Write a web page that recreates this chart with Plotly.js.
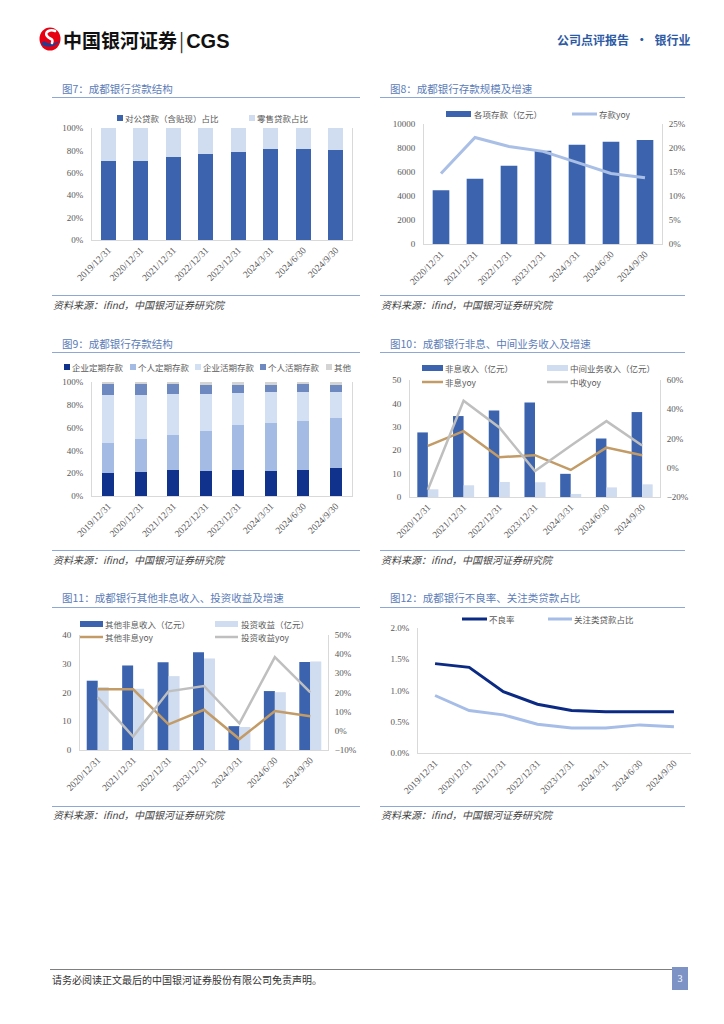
<!DOCTYPE html>
<html><head><meta charset="utf-8">
<script src="https://cdn.plot.ly/plotly-3.0.1.min.js"></script>
<style>
body{margin:0;width:724px;height:1024px;background:#fff;position:relative;overflow:hidden;font-family:"Noto Sans CJK SC","Noto Sans",sans-serif;}
.abs{position:absolute;}
.ptitle{position:absolute;font-size:10.5px;line-height:12px;color:#5B7CB8;white-space:nowrap;}
.hline{position:absolute;height:0;border-top:1.5px solid #8FA7D3;}
.src{position:absolute;font-size:10px;line-height:12px;color:#444;font-style:italic;white-space:nowrap;}
.chart{position:absolute;}
</style></head>
<body>
<!-- header -->
<svg class="abs" style="left:38px;top:26px" width="24" height="26" viewBox="0 0 24 26">
  <ellipse cx="12" cy="13" rx="10.5" ry="11.5" fill="#E60012"/>
  <path d="M3,18 C8,22 18,22 22,14 C19,18 11,19 6,15 Z" fill="#1D3F94"/>
  <path d="M17,5 C12,3 6,6 9,10 C12,14 16,12 14,17" stroke="#fff" stroke-width="2.6" fill="none" stroke-linecap="round"/>
</svg>
<div class="abs" style="left:63px;top:28px;font-size:19px;font-weight:bold;color:#111;line-height:24px;white-space:nowrap;">中国银河证券<span style="font-weight:normal;color:#333;margin:0 2px;">|</span><span style="font-family:'Liberation Sans',Arial,sans-serif;font-size:20px;">CGS</span></div>
<div class="abs" style="left:557px;top:32px;font-size:12px;font-weight:bold;color:#2D5AA4;white-space:nowrap;line-height:16px;">公司点评报告 <span style="margin:0 4px;">·</span> 银行业</div>

<!-- row 1 -->
<div class="ptitle" style="left:62px;top:83px;">图7：成都银行贷款结构</div>
<div class="ptitle" style="left:390px;top:83px;">图8：成都银行存款规模及增速</div>
<div class="hline" style="left:52px;top:97px;width:308px;"></div>
<div class="hline" style="left:380px;top:97px;width:305px;"></div>
<div class="hline" style="left:52px;top:295px;width:308px;"></div>
<div class="hline" style="left:380px;top:295px;width:305px;"></div>
<div class="src" style="left:53px;top:299px;">资料来源：ifind，中国银河证券研究院</div>
<div class="src" style="left:381px;top:299px;">资料来源：ifind，中国银河证券研究院</div>

<!-- row 2 -->
<div class="ptitle" style="left:62px;top:338px;">图9：成都银行存款结构</div>
<div class="ptitle" style="left:390px;top:338px;">图10：成都银行非息、中间业务收入及增速</div>
<div class="hline" style="left:52px;top:352px;width:308px;"></div>
<div class="hline" style="left:380px;top:352px;width:305px;"></div>
<div class="hline" style="left:52px;top:550px;width:308px;"></div>
<div class="hline" style="left:380px;top:550px;width:305px;"></div>
<div class="src" style="left:53px;top:554px;">资料来源：ifind，中国银河证券研究院</div>
<div class="src" style="left:381px;top:554px;">资料来源：ifind，中国银河证券研究院</div>

<!-- row 3 -->
<div class="ptitle" style="left:62px;top:592px;">图11：成都银行其他非息收入、投资收益及增速</div>
<div class="ptitle" style="left:390px;top:592px;">图12：成都银行不良率、关注类贷款占比</div>
<div class="hline" style="left:52px;top:607px;width:308px;"></div>
<div class="hline" style="left:380px;top:607px;width:305px;"></div>
<div class="hline" style="left:52px;top:806px;width:308px;"></div>
<div class="hline" style="left:380px;top:806px;width:305px;"></div>
<div class="src" style="left:53px;top:809px;">资料来源：ifind，中国银河证券研究院</div>
<div class="src" style="left:381px;top:809px;">资料来源：ifind，中国银河证券研究院</div>

<div id="c7" class="chart" style="left:50px;top:100px;"></div>
<div id="c8" class="chart" style="left:375px;top:100px;"></div>
<div id="c9" class="chart" style="left:50px;top:355px;"></div>
<div id="c10" class="chart" style="left:375px;top:355px;"></div>
<div id="c11" class="chart" style="left:50px;top:610px;"></div>
<div id="c12" class="chart" style="left:375px;top:610px;"></div>

<!-- footer -->
<div class="abs" style="left:50px;top:969px;width:622px;height:0;border-top:1px solid #7F7F7F;"></div>
<div class="abs" style="left:52px;top:974px;font-size:10px;color:#333;white-space:nowrap;line-height:12px;">请务必阅读正文最后的中国银河证券股份有限公司免责声明。</div>
<div class="abs" style="left:672px;top:967px;width:16px;height:23px;background:#7D93C6;color:#fff;font-size:10px;line-height:23px;text-align:center;font-family:'Liberation Serif',serif;">3</div>

<script>
// ---------- data ----------
const dates8 = ['2019/12/31','2020/12/31','2021/12/31','2022/12/31','2023/12/31','2024/3/31','2024/6/30','2024/9/30'];
const dates7 = ['2020/12/31','2021/12/31','2022/12/31','2023/12/31','2024/3/31','2024/6/30','2024/9/30'];

// Fig 7 loan structure (%)
const corpLoanShare = [70.9, 70.3, 73.9, 77.2, 78.9, 81.0, 81.0, 80.4];
const retailLoanShare = [29.1, 29.7, 26.1, 22.8, 21.1, 19.0, 19.0, 19.6];

// Fig 8 deposits (亿元) and yoy (%)
const deposits = [4472, 5444, 6528, 7778, 8278, 8528, 8667];
const depositYoy = [14.7, 22.2, 20.3, 19.3, 17.0, 14.7, 13.8];

// Fig 9 deposit structure (%)
const corpTime = [20.5, 21.3, 22.8, 21.6, 22.8, 21.9, 22.8, 24.6];
const persTime = [25.7, 28.7, 30.4, 35.4, 39.8, 42.1, 43.0, 43.5];
const corpDemand = [42.1, 38.6, 36.3, 32.5, 28.0, 27.2, 25.7, 23.1];
const persDemand = [10.2, 9.9, 8.7, 8.2, 6.8, 6.2, 6.5, 6.5];
const otherDep = [1.5, 1.5, 1.8, 2.3, 2.6, 2.6, 2.0, 2.3];

// Fig 10 non-interest income, fee income (亿元) and yoy (%)
const nonIntIncome = [27.6, 34.6, 37.0, 40.4, 9.9, 25.0, 36.3];
const feeIncome = [3.3, 5.0, 6.4, 6.3, 1.3, 4.1, 5.4];
const nonIntYoy = [15.0, 25.0, 7.2, 8.6, -1.5, 13.8, 8.6];
const feeYoy = [-15.0, 45.8, 27.5, -2.2, 15.0, 31.9, 15.2];

// Fig 11 other non-interest income, investment income (亿元) and yoy (%)
const otherNonInt = [24.1, 29.4, 30.5, 34.0, 8.3, 20.5, 30.6];
const investIncome = [21.9, 21.3, 25.7, 31.8, 8.0, 20.1, 30.8];
const otherNonIntYoy = [21.7, 21.7, 3.4, 11.0, -4.3, 10.3, 7.6];
const investYoy = [17.5, -3.0, 20.6, 23.4, 3.9, 38.5, 20.1];

// Fig 12 NPL ratio, special-mention ratio (%)
const nplRatio = [1.43, 1.37, 0.98, 0.78, 0.68, 0.66, 0.66, 0.66];
const smlRatio = [0.92, 0.68, 0.61, 0.46, 0.40, 0.40, 0.45, 0.42];

// ---------- styles ----------
const CJK = '"Noto Sans CJK SC", "Noto Sans", sans-serif';
const NUM = '"Liberation Serif", "DejaVu Serif", serif';
const AX = '#D9D9D9';
const TXT = '#595959';
const C_DARK = '#3C64AE', C_LIGHT = '#D0DCF0', C_TAN = '#C29B66', C_GRAY = '#BFBFBF';
const cfg = {staticPlot:true, displayModeBar:false};

function xAxis(extra){
  return Object.assign({type:'category', tickangle:-45, tickfont:{family:NUM, size:9.5, color:TXT},
    showline:true, linecolor:AX, linewidth:1, ticks:'', showgrid:false, zeroline:false, automargin:false}, extra);
}
function yAxis(extra){
  return Object.assign({showgrid:false, zeroline:false, showline:true, linecolor:AX, linewidth:1,
    ticks:'outside', ticklen:6, tickcolor:'rgba(0,0,0,0)', tickfont:{family:NUM, size:9, color:TXT}, automargin:false}, extra);
}
function baseLayout(w,h,m,extra){
  return Object.assign({width:w, height:h, margin:m, paper_bgcolor:'rgba(0,0,0,0)', plot_bgcolor:'rgba(0,0,0,0)',
    showlegend:false, font:{family:CJK, size:8.5, color:TXT}}, extra);
}
// legend keys drawn as paper-referenced shapes + text annotations
// box: plot-area box in div pixels {l,r,t,b}; items in div pixels
function makeLegend(items, box){
  const W = box.r - box.l, H = box.b - box.t;
  const px = x => (x - box.l)/W, py = y => (box.b - y)/H;
  const shapes = [], annotations = [];
  items.forEach(it => {
    if (it.kind === 'rect') {
      const hh = (it.h || 6)/2;
      shapes.push({type:'rect', xref:'paper', yref:'paper', x0:px(it.x0), x1:px(it.x1), y0:py(it.y+hh), y1:py(it.y-hh),
        fillcolor:it.color, line:{width:0}});
    } else {
      shapes.push({type:'line', xref:'paper', yref:'paper', x0:px(it.x0), x1:px(it.x1), y0:py(it.y), y1:py(it.y),
        line:{color:it.color, width:it.lw || 3}});
    }
    annotations.push({xref:'paper', yref:'paper', x:px(it.tx), y:py(it.y), xanchor:'left', yanchor:'middle',
      showarrow:false, borderpad:0, text:it.text, font:{family:CJK, size:8.5, color:TXT}});
  });
  return {shapes, annotations};
}

// ---------- Fig 7 ----------  (div at page 50,100)
const box7 = {l:42, r:302, t:28, b:140};
const leg7 = makeLegend([
  {kind:'rect', x0:67, x1:73, y:18, color:C_DARK, tx:74, text:'对公贷款（含贴现）占比'},
  {kind:'rect', x0:199, x1:205, y:18, color:C_LIGHT, tx:206, text:'零售贷款占比'}
], box7);
Plotly.newPlot('c7', [
  {type:'bar', name:'对公贷款（含贴现）占比', x:dates8, y:corpLoanShare, marker:{color:C_DARK}},
  {type:'bar', name:'零售贷款占比', x:dates8, y:retailLoanShare, marker:{color:C_LIGHT}}
], baseLayout(310,195,{l:42,r:8,t:28,b:55},{
  barmode:'stack', bargap:0.55,
  xaxis:xAxis(),
  yaxis:yAxis({range:[0,100], dtick:20, ticksuffix:'%', mirror:true}),
  shapes:leg7.shapes, annotations:leg7.annotations
}), cfg);

// ---------- Fig 8 ----------  (div at page 375,100)
const box8 = {l:49, r:287, t:24, b:144};
const leg8 = makeLegend([
  {kind:'rect', x0:71, x1:96, y:14, color:C_DARK, tx:98, text:'各项存款（亿元）'},
  {kind:'line', x0:197, x1:222, y:14, color:'#A9BFE6', lw:3, tx:223, text:'存款yoy'}
], box8);
Plotly.newPlot('c8', [
  {type:'bar', name:'各项存款（亿元）', x:dates7, y:deposits, marker:{color:C_DARK}},
  {type:'scatter', mode:'lines', name:'存款yoy', x:dates7, y:depositYoy, yaxis:'y2', line:{color:'#A9BFE6', width:3}}
], baseLayout(330,195,{l:49,r:43,t:24,b:51},{
  bargap:0.51,
  xaxis:xAxis(),
  yaxis:yAxis({range:[0,10000], dtick:2000, tickformat:'d'}),
  yaxis2:yAxis({range:[0,25], dtick:5, ticksuffix:'%', overlaying:'y', side:'right', ticklen:4}),
  shapes:leg8.shapes, annotations:leg8.annotations
}), cfg);

// ---------- Fig 9 ----------  (div at page 50,355)
const box9 = {l:42, r:302, t:27, b:141};
const leg9 = makeLegend([
  {kind:'rect', x0:14, x1:20, y:12, color:'#10318C', tx:21, text:'企业定期存款'},
  {kind:'rect', x0:80, x1:86, y:12, color:'#A4BBE3', tx:87, text:'个人定期存款'},
  {kind:'rect', x0:145, x1:151, y:12, color:'#D3DFF2', tx:152, text:'企业活期存款'},
  {kind:'rect', x0:210, x1:216, y:12, color:'#6D89C0', tx:217, text:'个人活期存款'},
  {kind:'rect', x0:276, x1:282, y:12, color:'#D4D4D4', tx:283, text:'其他'}
], box9);
Plotly.newPlot('c9', [
  {type:'bar', name:'企业定期存款', x:dates8, y:corpTime, marker:{color:'#10318C'}},
  {type:'bar', name:'个人定期存款', x:dates8, y:persTime, marker:{color:'#A4BBE3'}},
  {type:'bar', name:'企业活期存款', x:dates8, y:corpDemand, marker:{color:'#D3DFF2'}},
  {type:'bar', name:'个人活期存款', x:dates8, y:persDemand, marker:{color:'#6D89C0'}},
  {type:'bar', name:'其他', x:dates8, y:otherDep, marker:{color:'#D4D4D4'}}
], baseLayout(310,195,{l:42,r:8,t:27,b:54},{
  barmode:'stack', bargap:0.63,
  xaxis:xAxis(),
  yaxis:yAxis({range:[0,100], dtick:20, ticksuffix:'%', mirror:true}),
  shapes:leg9.shapes, annotations:leg9.annotations
}), cfg);

// ---------- Fig 10 ----------  (div at page 375,355)
const box10 = {l:35, r:285, t:25, b:142};
const leg10 = makeLegend([
  {kind:'rect', x0:47, x1:68, y:13, color:C_DARK, tx:69, text:'非息收入（亿元）'},
  {kind:'rect', x0:172, x1:193, y:13, color:C_LIGHT, tx:194, text:'中间业务收入（亿元）'},
  {kind:'line', x0:47, x1:68, y:27, color:C_TAN, lw:2.5, tx:69, text:'非息yoy'},
  {kind:'line', x0:172, x1:193, y:27, color:C_GRAY, lw:2.5, tx:194, text:'中收yoy'}
], box10);
Plotly.newPlot('c10', [
  {type:'bar', name:'非息收入（亿元）', x:dates7, y:nonIntIncome, marker:{color:C_DARK}},
  {type:'bar', name:'中间业务收入（亿元）', x:dates7, y:feeIncome, marker:{color:C_LIGHT}},
  {type:'scatter', mode:'lines', name:'非息yoy', x:dates7, y:nonIntYoy, yaxis:'y2', line:{color:C_TAN, width:2.5}},
  {type:'scatter', mode:'lines', name:'中收yoy', x:dates7, y:feeYoy, yaxis:'y2', line:{color:C_GRAY, width:2.5}}
], baseLayout(330,195,{l:35,r:45,t:25,b:53},{
  barmode:'group', bargap:0.41, bargroupgap:0,
  xaxis:xAxis(),
  yaxis:yAxis({range:[0,50], dtick:10}),
  yaxis2:yAxis({range:[-20,60], dtick:20, ticksuffix:'%', overlaying:'y', side:'right', ticklen:4}),
  shapes:leg10.shapes, annotations:leg10.annotations
}), cfg);

// ---------- Fig 11 ----------  (div at page 50,610)
const box11 = {l:30, r:278, t:25, b:140};
const leg11 = makeLegend([
  {kind:'rect', x0:30, x1:53, y:14, color:C_DARK, tx:54, text:'其他非息收入（亿元）'},
  {kind:'rect', x0:165, x1:188, y:14, color:C_LIGHT, tx:190, text:'投资收益（亿元）'},
  {kind:'line', x0:30, x1:53, y:27, color:C_TAN, lw:2.5, tx:54, text:'其他非息yoy'},
  {kind:'line', x0:165, x1:188, y:27, color:C_GRAY, lw:2.5, tx:190, text:'投资收益yoy'}
], box11);
Plotly.newPlot('c11', [
  {type:'bar', name:'其他非息收入（亿元）', x:dates7, y:otherNonInt, marker:{color:C_DARK}},
  {type:'bar', name:'投资收益（亿元）', x:dates7, y:investIncome, marker:{color:C_LIGHT}},
  {type:'scatter', mode:'lines', name:'其他非息yoy', x:dates7, y:otherNonIntYoy, yaxis:'y2', line:{color:C_TAN, width:2.5}},
  {type:'scatter', mode:'lines', name:'投资收益yoy', x:dates7, y:investYoy, yaxis:'y2', line:{color:C_GRAY, width:2.5}}
], baseLayout(320,196,{l:30,r:42,t:25,b:56},{
  barmode:'group', bargap:0.38, bargroupgap:0,
  xaxis:xAxis(),
  yaxis:yAxis({range:[0,40], dtick:10}),
  yaxis2:yAxis({range:[-10,50], dtick:10, ticksuffix:'%', overlaying:'y', side:'right', ticklen:4}),
  shapes:leg11.shapes, annotations:leg11.annotations
}), cfg);

// ---------- Fig 12 ----------  (div at page 375,610)
const box12 = {l:43, r:316, t:18, b:143};
const leg12 = makeLegend([
  {kind:'line', x0:87, x1:112, y:9, color:'#0B2A84', lw:3, tx:113, text:'不良率'},
  {kind:'line', x0:173, x1:197, y:9, color:'#A6BDE8', lw:3, tx:198, text:'关注类贷款占比'}
], box12);
Plotly.newPlot('c12', [
  {type:'scatter', mode:'lines', name:'不良率', x:dates8, y:nplRatio, line:{color:'#0B2A84', width:3}},
  {type:'scatter', mode:'lines', name:'关注类贷款占比', x:dates8, y:smlRatio, line:{color:'#A6BDE8', width:3}}
], baseLayout(320,196,{l:43,r:4,t:18,b:53},{
  xaxis:xAxis({range:[-0.5, dates8.length-0.5]}),
  yaxis:yAxis({range:[0,2], dtick:0.5, tickformat:'.1f', ticksuffix:'%'}),
  shapes:leg12.shapes, annotations:leg12.annotations
}), cfg);
</script>
</body></html>
